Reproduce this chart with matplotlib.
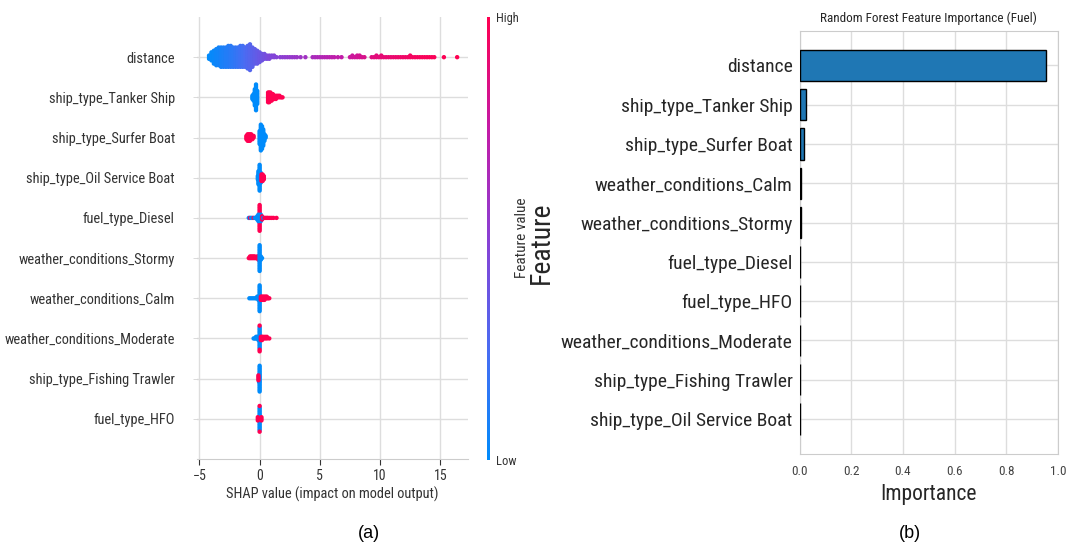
import numpy as np
import matplotlib
matplotlib.use("Agg")
from matplotlib import pyplot as plt
from matplotlib.colors import LinearSegmentedColormap

plt.rcParams['font.family'] = ['Roboto Condensed', 'Liberation Sans', 'DejaVu Sans']

# ---- panel (a): SHAP beeswarm, top to bottom ----
shap_features = ["distance", "ship_type_Tanker Ship", "ship_type_Surfer Boat",
                 "ship_type_Oil Service Boat", "fuel_type_Diesel",
                 "weather_conditions_Stormy", "weather_conditions_Calm",
                 "weather_conditions_Moderate", "ship_type_Fishing Trawler",
                 "fuel_type_HFO"]

# each feature: shap value, number of dots, feature value (0 low .. 1 high)
dist_x = [-4.2, -4.0, -3.8, -3.6, -3.4, -3.2, -3.0, -2.8, -2.6, -2.4, -2.2, -2.0,
          -1.8, -1.6, -1.4, -1.2, -1.0, -0.8, -0.6, -0.4, -0.2, 0.0, 0.2, 0.4,
          0.6, 0.8, 1.0, 1.2, 1.4, 1.7, 1.9, 2.1, 2.3, 2.5, 2.7, 2.9, 3.1, 3.4,
          3.8, 4.4, 4.6, 4.8, 5.0, 5.2, 5.4, 5.6, 5.8, 6.0, 6.2, 6.5, 6.8, 7.5,
          7.7, 7.9, 8.1, 8.3, 8.5, 8.7, 9.3, 9.5, 9.7, 9.9, 10.1, 10.3, 10.5,
          10.7, 10.9, 11.1, 11.3, 11.5, 11.7, 11.9, 12.1, 12.3, 12.5, 12.7,
          12.9, 13.1, 13.3, 13.5, 13.7, 13.9, 14.1, 14.3, 14.5, 15.3, 16.4]
dist_n = [3, 6, 9, 11, 12, 13, 13, 13, 14, 14, 13, 13,
          13, 14, 14, 13, 15, 17, 13, 10, 9, 7, 5, 4,
          3, 3, 2, 2, 1, 1, 1, 1, 1, 1, 1, 1, 1, 1,
          1, 1, 1, 1, 1, 1, 1, 1, 1, 1, 1, 1, 1, 1,
          2, 1, 2, 2, 1, 1, 1, 1, 2, 1, 2, 1, 1,
          1, 1, 1, 1, 1, 1, 1, 1, 1, 2, 1,
          1, 1, 1, 1, 1, 1, 1, 1, 1, 1, 1]
dist_v = [0.0, 0.02, 0.03, 0.05, 0.06, 0.08, 0.09, 0.11, 0.12, 0.14, 0.15, 0.17,
          0.19, 0.21, 0.23, 0.25, 0.27, 0.29, 0.31, 0.33, 0.35, 0.37, 0.39, 0.41,
          0.43, 0.45, 0.46, 0.47, 0.48, 0.5, 0.51, 0.52, 0.53, 0.54, 0.55, 0.56, 0.57, 0.58,
          0.6, 0.63, 0.64, 0.65, 0.66, 0.67, 0.68, 0.69, 0.7, 0.71, 0.72, 0.73, 0.74, 0.77,
          0.78, 0.79, 0.8, 0.81, 0.82, 0.83, 0.86, 0.87, 0.88, 0.88, 0.89, 0.89, 0.9,
          0.9, 0.91, 0.91, 0.92, 0.92, 0.93, 0.93, 0.94, 0.94, 0.95, 0.95,
          0.96, 0.96, 0.96, 0.97, 0.97, 0.97, 0.98, 0.98, 0.98, 0.99, 1.0]

tank_x = [-0.6, -0.5, -0.4, -0.3, -0.2, 0.7, 0.8, 0.9, 1.0, 1.1, 1.2, 1.35, 1.5, 1.65, 1.8, 1.9]
tank_n = [3, 5, 11, 17, 9, 7, 7, 6, 5, 4, 3, 3, 2, 2, 1, 1]
tank_v = [0, 0, 0, 0, 0, 1, 1, 1, 1, 1, 1, 1, 1, 1, 1, 1]

surf_x = [-1.1, -1.0, -0.9, -0.8, -0.7, -0.6, -0.5, 0.0, 0.1, 0.2, 0.3, 0.4, 0.5]
surf_n = [3, 5, 5, 5, 4, 3, 2, 9, 17, 15, 11, 5, 2]
surf_v = [1, 1, 1, 1, 1, 1, 1, 0, 0, 0, 0, 0, 0]

oil_x = [-0.15, -0.1, 0.0, 0.1, 0.15, 0.25, 0.35]
oil_n = [3, 9, 17, 7, 5, 5, 3]
oil_v = [0, 0, 0, 0, 1, 1, 1]

dies_x = [0.0, -0.9, -0.8, -0.7, -0.6, -0.5, -0.4, -0.3, -0.2, -0.1, 0.1, 0.2,
          0.3, 0.4, 0.5, 0.6, 0.7, 0.85, 1.0, 1.15, 1.4]
dies_n = [17, 1, 1, 1, 1, 1, 1, 1, 3, 5, 5, 3, 1, 1, 1, 1, 1, 1, 1, 1, 1]
dies_v = [1, 0, 1, 0, 0, 1, 0, 0, 0, 0, 0, 1, 0, 1, 1, 1, 1, 1, 1, 1, 1]

storm_x = [-0.9, -0.8, -0.7, -0.6, -0.5, -0.4, -0.3, -0.2, -0.1, 0.0, 0.1, 0.2]
storm_n = [1, 2, 2, 2, 2, 2, 1, 2, 3, 17, 3, 1]
storm_v = [1, 1, 1, 1, 1, 1, 1, 1, 1, 0, 0, 0]

calm_x = [-0.85, -0.7, -0.55, -0.4, -0.3, -0.2, -0.1, 0.0, 0.1, 0.2, 0.3, 0.4, 0.5, 0.6, 0.7, 0.8]
calm_n = [1, 1, 1, 1, 1, 2, 3, 17, 3, 3, 3, 3, 2, 2, 1, 1]
calm_v = [0, 0, 0, 0, 0, 0, 0, 0, 1, 1, 1, 1, 1, 1, 1, 1]

mod_x = [-0.5, -0.4, -0.3, -0.2, -0.1, 0.0, 0.0, 0.1, 0.2, 0.3, 0.45, 0.6, 0.8]
mod_n = [1, 1, 2, 2, 3, 14, 3, 3, 3, 2, 2, 2, 1]
mod_v = [0, 0, 0, 0, 0, 0, 1, 1, 1, 1, 1, 1, 1]

fish_x = [0.0, -0.05, -0.1]
fish_n = [17, 5, 4]
fish_v = [0, 0, 1]

hfo_x = [0.0, 0.0, -0.15, 0.15]
hfo_n = [15, 2, 3, 3]
hfo_v = [0, 1, 1, 1]

# ---- panel (b): random forest importance, top to bottom ----
rf_features = ["distance", "ship_type_Tanker Ship", "ship_type_Surfer Boat",
               "weather_conditions_Calm", "weather_conditions_Stormy",
               "fuel_type_Diesel", "fuel_type_HFO", "weather_conditions_Moderate",
               "ship_type_Fishing Trawler", "ship_type_Oil Service Boat"]
rf_importance = [0.955, 0.026, 0.018, 0.004, 0.004, 0.003, 0.003, 0.003, 0.001, 0.0005]

rows = [(dist_x, dist_n, dist_v), (tank_x, tank_n, tank_v), (surf_x, surf_n, surf_v),
        (oil_x, oil_n, oil_v), (dies_x, dies_n, dies_v), (storm_x, storm_n, storm_v),
        (calm_x, calm_n, calm_v), (mod_x, mod_n, mod_v), (fish_x, fish_n, fish_v),
        (hfo_x, hfo_n, hfo_v)]

cmap = LinearSegmentedColormap.from_list(
    "shap_rb", [(0, "#008bfb"), (0.25, "#4a6cf2"), (0.5, "#8a40d4"),
                (0.75, "#c41aa6"), (1, "#ff0051")])


def swarm(xs, row_height=0.4):
    # stack dots sharing a value alternately up / down (shap style)
    xs = np.asarray(xs, float)
    ys = np.zeros(len(xs))
    counts = {}
    for i, x in enumerate(xs):
        layer = counts.get(x, 0)
        ys[i] = np.ceil(layer / 2) * ((layer % 2) * 2 - 1)
        counts[x] = layer + 1
    ys *= 0.9 * (row_height / np.max(ys + 1))
    return ys


W, H = 1067, 547
fig = plt.figure(figsize=(W / 100, H / 100), dpi=100)

ax1 = fig.add_axes([197 / W, 1 - 459 / H, (468 - 197) / W, (459 - 17) / H])
N = len(shap_features)
for i, (x, n, v) in enumerate(rows):
    px = np.repeat(x, n)
    pv = np.repeat(v, n)
    py = N - 1 - i + swarm(px)
    ax1.scatter(px, py, c=pv, cmap=cmap, vmin=0, vmax=1, s=10, linewidths=0, zorder=3)

ax1.set_xlim(-5.2, 17.3)
ax1.set_ylim(-1, N)
ax1.set_yticks(range(N))
ax1.set_yticklabels(shap_features[::-1], fontsize=10.4, color="#333333")
ax1.set_xticks([-5, 0, 5, 10, 15])
ax1.tick_params('x', labelsize=10, colors="#333333", length=4, width=0.8)
ax1.tick_params('y', length=3, width=0.5, color="#cccccc", pad=13)
ax1.grid(True, color="#dddddd", lw=1)
ax1.set_axisbelow(True)
for s in ["top", "right", "left"]:
    ax1.spines[s].set_visible(False)
ax1.spines["bottom"].set_color("#cccccc")
ax1.set_xlabel("SHAP value (impact on model output)", fontsize=10.4, color="#333333", labelpad=2)

cax = fig.add_axes([486.5 / W, 1 - 460 / H, 3.5 / W, 443 / H])
cb = fig.colorbar(plt.cm.ScalarMappable(cmap=cmap, norm=plt.Normalize(0, 1)), cax=cax, ticks=[0, 1])
cb.outline.set_visible(False)
cb.set_ticklabels(["Low", "High"])
cax.tick_params(labelsize=9, length=0, pad=4, colors="#333333")
fig.text(522 / W, 1 - 238 / H, "Feature value", rotation=90, fontsize=11,
         color="#333333", ha="center", va="center")

ax2 = fig.add_axes([799.5 / W, 1 - 454 / H, (1058 - 799.5) / W, (454 - 30.5) / H])
ypos = np.arange(len(rf_features))
ax2.barh(ypos, rf_importance, height=0.8, color="#1f77b4", edgecolor="black", linewidth=1, zorder=3)
ax2.set_yticks(ypos)
ax2.set_yticklabels(rf_features, fontsize=14, color="#262626")
ax2.invert_yaxis()
ax2.set_xlim(0, 1.0)
ax2.set_xticks([0, 0.2, 0.4, 0.6, 0.8, 1.0])
ax2.tick_params('x', labelsize=9.5, length=0, pad=8, colors="#444444")
ax2.tick_params('y', length=0, pad=5)
ax2.grid(True, color="#dddddd", lw=1)
ax2.set_axisbelow(True)
for s in ax2.spines.values():
    s.set_color("#cccccc")
ax2.set_xlabel("Importance", fontsize=15.5, color="#262626", labelpad=4)
ax2.set_ylabel("Feature", fontsize=20, color="#262626")
ax2.yaxis.set_label_coords((555 - 799.5) / 258.5, 0.5)
ax2.set_title("Random Forest Feature Importance (Fuel)", fontsize=9.5, color="#262626", pad=6)

fig.text(369 / W, 1 - 533 / H, "(a)", fontsize=13, family="Liberation Sans", ha="center", va="center")
fig.text(910 / W, 1 - 533 / H, "(b)", fontsize=13, family="Liberation Sans", ha="center", va="center")

fig.savefig("out.png", dpi=100, facecolor="white")
